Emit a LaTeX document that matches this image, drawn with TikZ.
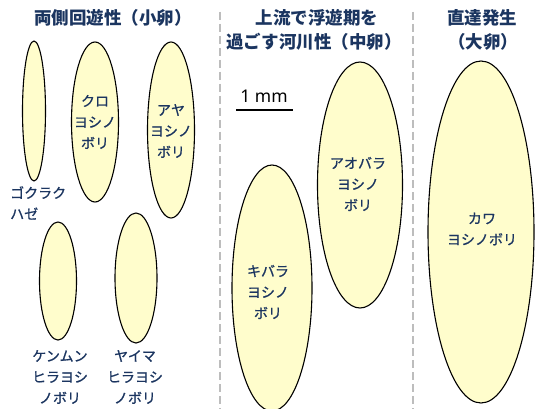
\documentclass[tikz,border=0pt]{standalone}
\usepackage{fontspec}
\newfontfamily\cjk{Noto Sans CJK JP}
\newfontfamily\cjkm[FakeBold=0.9]{Noto Sans CJK JP}
\usetikzlibrary{shapes.geometric}
\definecolor{eggfill}{HTML}{FFFDCC}
\definecolor{txtblue}{HTML}{1B3560}
\definecolor{sepgray}{HTML}{BDBDBD}
\tikzset{
  egg/.style={ellipse, draw=black, line width=1.1pt, fill=eggfill, inner sep=0pt},
  lbl/.style={text=txtblue, font=\cjkm\fontsize{14}{21}\selectfont, align=center, inner sep=0pt},
  ttl/.style={text=txtblue, font=\cjk\bfseries\fontsize{17.5}{24}\selectfont, align=center, inner sep=0pt},
  sep/.style={draw=sepgray, line width=1.4pt, dash pattern=on 8pt off 4pt}
}
\begin{document}
\begin{tikzpicture}[x=1pt,y=-1pt]
\useasboundingbox (0,0) rectangle (535,409);
\fill[white] (0,0) rectangle (535,409);
% separators
\coordinate (s1a) at (220,12); \coordinate (s1b) at (220,409);
\coordinate (s2a) at (413,12); \coordinate (s2b) at (413,409);
\draw[sep] (s1a) -- (s1b);
\draw[sep] (s2a) -- (s2b);
% titles
\node[ttl] (t1) at (113,18) {両側回遊性（小卵）};
\node[ttl] (t2a) at (317,18) {上流で浮遊期を};
\node[ttl] (t2b) at (314,42) {過ごす河川性（中卵）};
\node[ttl] (t3a) at (482,18) {直達発生};
\node[ttl] (t3b) at (483,42) {（大卵）};
% scale bar
\node[text=black, font=\fontspec{Noto Sans}\fontsize{17.5}{20}\selectfont, inner sep=0pt] (mm) at (264,96) {1 mm};
\coordinate (bl) at (236,110); \coordinate (br) at (293,110);
\draw[line width=1.8pt] (bl) -- (br);
% eggs
\node[egg, minimum width=23pt, minimum height=140pt] (goku) at (34,111) {};
\node[egg, minimum width=47pt, minimum height=160pt] (kuro) at (95,122) {};
\node[egg, minimum width=47pt, minimum height=176pt] (aya) at (171,130) {};
\node[egg, minimum width=37pt, minimum height=118pt] (ken) at (58,281) {};
\node[egg, minimum width=42pt, minimum height=130pt] (yai) at (136,278) {};
\node[egg, minimum width=80pt, minimum height=246pt] (kib) at (272,288) {};
\node[egg, minimum width=85pt, minimum height=246pt] (aob) at (360,185) {};
\node[egg, minimum width=106pt, minimum height=342pt] (kaw) at (481,232) {};
% labels
\node[lbl] (lkuro) at (95,122) {クロ\\ヨシノ\\ボリ};
\node[lbl] (laya) at (171,131) {アヤ\\ヨシノ\\ボリ};
\node[lbl, align=left, anchor=west] (lgoku) at (10,203) {ゴクラク\\ハゼ};
\node[lbl] (lken) at (60,377) {ケンムン\\ヒラヨシ\\ノボリ};
\node[lbl] (lyai) at (135,377) {ヤイマ\\ヒラヨシ\\ノボリ};
\node[lbl] (lkib) at (268,292) {キバラ\\ヨシノ\\ボリ};
\node[lbl] (laob) at (358,184) {アオバラ\\ヨシノ\\ボリ};
\node[lbl] (lkaw) at (482,229) {カワ\\ヨシノボリ};
\end{tikzpicture}
\end{document}
